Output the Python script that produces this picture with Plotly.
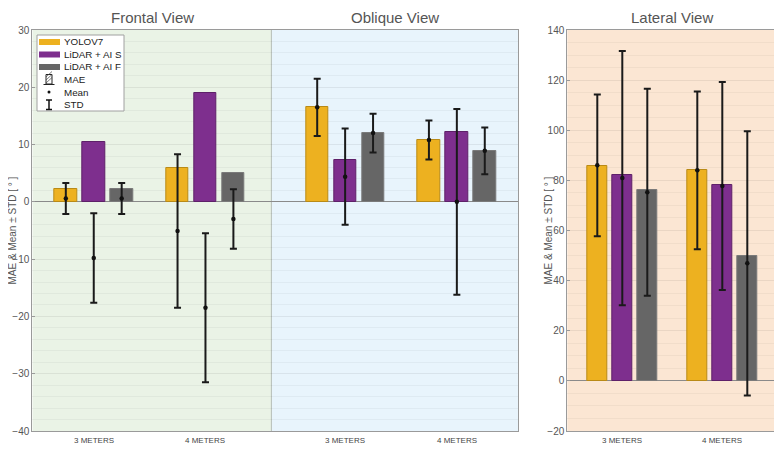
import plotly.graph_objects as go

W, H = 782, 450
PAGE_MARGIN = 8          # default browser body margin around the plot div
FW, FH = W - PAGE_MARGIN, H - PAGE_MARGIN

# ---------------- data ----------------
series_names = ["YOLOV7", "LiDAR + AI S", "LiDAR + AI F"]
group_labels_left = ["3 METERS", "4 METERS", "3 METERS", "4 METERS"]
group_pos_left = [1, 2, 3.25, 4.25]          # frontal: 1,2 ; oblique: 3.25,4.25
group_labels_lat = ["3 METERS", "4 METERS"]
group_pos_lat = [1, 2]

# Frontal + Oblique
yolo_mae_left = [2.2, 5.9, 16.5, 10.8]
lidarS_mae_left = [10.5, 19.0, 7.3, 12.2]
lidarF_mae_left = [2.3, 5.1, 12.0, 8.9]
yolo_mean_left = [0.6, -5.1, 16.5, 10.8]
yolo_std_left = [2.7, 13.4, 5.0, 3.4]
lidarS_mean_left = [-9.8, -18.5, 4.4, 0.0]
lidarS_std_left = [7.8, 13.0, 8.4, 16.2]
lidarF_mean_left = [0.6, -3.0, 12.0, 8.9]
lidarF_std_left = [2.7, 5.2, 3.4, 4.1]

# Lateral
yolo_mae_lat = [85.8, 84.0]
lidarS_mae_lat = [82.2, 78.2]
lidarF_mae_lat = [76.0, 50.0]
yolo_mean_lat = [86.0, 84.0]
yolo_std_lat = [28.3, 31.5]
lidarS_mean_lat = [80.9, 77.8]
lidarS_std_lat = [50.7, 41.5]
lidarF_mean_lat = [75.3, 46.9]
lidarF_std_lat = [41.3, 52.7]

# ---------------- style ----------------
colors = ["#EDB120", "#7E2F8E", "#666666"]
edge_colors = ["#B98A16", "#5E2069", "#7A7A7A"]
offsets = [-0.25, 0.0, 0.25]
bar_w = 0.2
FONT = "Liberation Sans, Arial, sans-serif"

fig = go.Figure()

left_sets = [
    (yolo_mae_left, yolo_mean_left, yolo_std_left),
    (lidarS_mae_left, lidarS_mean_left, lidarS_std_left),
    (lidarF_mae_left, lidarF_mean_left, lidarF_std_left),
]
lat_sets = [
    (yolo_mae_lat, yolo_mean_lat, yolo_std_lat),
    (lidarS_mae_lat, lidarS_mean_lat, lidarS_std_lat),
    (lidarF_mae_lat, lidarF_mean_lat, lidarF_std_lat),
]

for axes, pos, sets in [(("x", "y"), group_pos_left, left_sets),
                        (("x2", "y2"), group_pos_lat, lat_sets)]:
    for k, (mae, mean, std) in enumerate(sets):
        xs = [p + offsets[k] for p in pos]
        fig.add_trace(go.Bar(
            x=xs, y=mae, width=bar_w, name=series_names[k],
            marker=dict(color=colors[k], line=dict(color=edge_colors[k], width=1)),
            xaxis=axes[0], yaxis=axes[1], showlegend=False,
        ))
    for k, (mae, mean, std) in enumerate(sets):
        xs = [p + offsets[k] for p in pos]
        fig.add_trace(go.Scatter(
            x=xs, y=mean, mode="markers", name=series_names[k] + " mean",
            marker=dict(color="#111111", size=4.5),
            error_y=dict(type="data", array=std, visible=True,
                         color="#1a1a1a", thickness=2, width=3.5),
            xaxis=axes[0], yaxis=axes[1], showlegend=False,
        ))

# ---------------- layout ----------------
def px(x):
    return (x - PAGE_MARGIN) / FW

def py(y):
    return 1 - (y - PAGE_MARGIN) / FH

x1_dom = [px(32.3), px(518.3)]
x2_dom = [px(567.3), px(777.3)]
y_dom = [py(431), py(30)]

axis_common = dict(showline=True, linecolor="#9a9a9a", linewidth=1, mirror=True,
                   automargin=False,
                   tickfont=dict(family=FONT, size=10, color="#555555"))

fig.update_layout(
    width=FW, height=FH,
    margin=dict(l=0, r=0, t=0, b=0, pad=0, autoexpand=False),
    paper_bgcolor="white",
    plot_bgcolor="rgba(0,0,0,0)",
    font=dict(family=FONT),
    showlegend=False,
    xaxis=dict(domain=x1_dom, range=[0.45, 4.8], tickmode="array",
               tickvals=group_pos_left, ticktext=group_labels_left, automargin=False,
               showticklabels=False, ticks="", showgrid=False, zeroline=False,
               showline=True, linecolor="#9a9a9a", mirror=True),
    yaxis=dict(domain=y_dom, range=[-40, 30], dtick=10, ticks="inside", ticklen=3,
               tickcolor="#9a9a9a", showgrid=True, gridcolor="rgba(0,0,0,0.065)",
               minor=dict(dtick=2, showgrid=True, gridcolor="rgba(0,0,0,0.04)"),
               zeroline=True, zerolinecolor="#8a8a8a", zerolinewidth=1,
               **axis_common),
    xaxis2=dict(domain=x2_dom, range=[0.45, 2.55], tickmode="array",
                tickvals=group_pos_lat, ticktext=group_labels_lat, anchor="y2",
                automargin=False,
                showticklabels=False, ticks="", showgrid=False, zeroline=False,
                showline=True, linecolor="#9a9a9a", mirror=True),
    yaxis2=dict(domain=y_dom, range=[-20, 140], dtick=20, anchor="x2",
                ticks="inside", ticklen=3, tickcolor="#9a9a9a",
                showgrid=True, gridcolor="rgba(0,0,0,0.065)",
                minor=dict(dtick=5, showgrid=True, gridcolor="rgba(0,0,0,0.04)"),
                zeroline=True, zerolinecolor="#8a8a8a", zerolinewidth=1,
                **axis_common),
    bargap=0,
)

divider = 2.59
shapes = [
    dict(type="rect", xref="x", yref="y domain", x0=0.45, x1=divider, y0=0, y1=1,
         fillcolor="#EAF3E6", line=dict(width=0), layer="below"),
    dict(type="rect", xref="x", yref="y domain", x0=divider, x1=4.8, y0=0, y1=1,
         fillcolor="#E8F4FC", line=dict(width=0), layer="below"),
    dict(type="rect", xref="x2 domain", yref="y2 domain", x0=0, x1=1, y0=0, y1=1,
         fillcolor="#FBE6D3", line=dict(width=0), layer="below"),
    dict(type="line", xref="x", yref="y domain", x0=divider, x1=divider, y0=0, y1=1,
         line=dict(color="#b5bdb5", width=1), layer="below"),
]

# custom legend
shapes.append(dict(type="rect", xref="paper", yref="paper",
                   x0=px(37), x1=px(124), y0=py(111), y1=py(35),
                   fillcolor="white", line=dict(color="#a0a0a0", width=1), layer="above"))
legend_rows = [42, 54.5, 67]
for k, yy in enumerate(legend_rows):
    shapes.append(dict(type="rect", xref="paper", yref="paper",
                       x0=px(39), x1=px(60), y0=py(yy + 3), y1=py(yy - 3),
                       fillcolor=colors[k], line=dict(width=0), layer="above"))
# MAE icon (hatched bar)
shapes.append(dict(type="rect", xref="paper", yref="paper",
                   x0=px(46), x1=px(52), y0=py(84), y1=py(74.5),
                   fillcolor="white", line=dict(color="#222222", width=1), layer="above"))
for d in [0, 3, 6]:
    shapes.append(dict(type="line", xref="paper", yref="paper",
                       x0=px(46), x1=px(52), y0=py(80 - d + 3), y1=py(80 - d - 2.5),
                       line=dict(color="#444444", width=0.7), layer="above"))
shapes.append(dict(type="line", xref="paper", yref="paper",
                   x0=px(43.5), x1=px(54.5), y0=py(84.5), y1=py(84.5),
                   line=dict(color="#222222", width=1), layer="above"))
# Mean icon
shapes.append(dict(type="circle", xref="paper", yref="paper",
                   x0=px(47.5), x1=px(50.5), y0=py(93.5), y1=py(90.5),
                   fillcolor="#111111", line=dict(width=0), layer="above"))
# STD icon
shapes.append(dict(type="line", xref="paper", yref="paper",
                   x0=px(49), x1=px(49), y0=py(110), y1=py(100),
                   line=dict(color="#111111", width=1.5), layer="above"))
for yy in [100, 109.5]:
    shapes.append(dict(type="line", xref="paper", yref="paper",
                       x0=px(46), x1=px(52), y0=py(yy), y1=py(yy),
                       line=dict(color="#111111", width=1.5), layer="above"))

fig.update_layout(shapes=shapes)

legend_labels = series_names + ["MAE", "Mean", "STD"]
legend_y = [42, 54.5, 67, 79.5, 92, 104.5]
annotations = []
for lab, yy in zip(legend_labels, legend_y):
    annotations.append(dict(text=lab, xref="paper", yref="paper", x=px(62), y=py(yy),
                            xanchor="left", yanchor="middle", showarrow=False,
                            font=dict(family=FONT, size=9.8, color="#222222")))

# category labels under each group
for xref, pos, labs in [("x", group_pos_left, group_labels_left),
                        ("x2", group_pos_lat, group_labels_lat)]:
    for p, lab in zip(pos, labs):
        annotations.append(dict(text=lab, xref=xref, yref="paper", x=p, y=py(440),
                                xanchor="center", yanchor="middle", showarrow=False,
                                font=dict(family=FONT, size=8, color="#444444")))

# panel titles (kept inside the top edge of the page's drawing area)
for txt, cx in [("Frontal View", 152.3), ("Oblique View", 395.3), ("Lateral View", 672.3)]:
    annotations.append(dict(text=txt, xref="paper", yref="paper", x=px(cx), y=1,
                            xanchor="center", yanchor="top", showarrow=False,
                            borderpad=0,
                            font=dict(family=FONT, size=15, color="#555555")))

# y axis titles
for cx in [12, 548]:
    annotations.append(dict(text="MAE & Mean ± STD [ ° ]", xref="paper", yref="paper",
                            x=px(cx), y=py(230.5), textangle=-90,
                            xanchor="center", yanchor="middle", showarrow=False,
                            font=dict(family=FONT, size=10, color="#555555")))

fig.update_layout(annotations=annotations)

fig.write_html("out.html")
